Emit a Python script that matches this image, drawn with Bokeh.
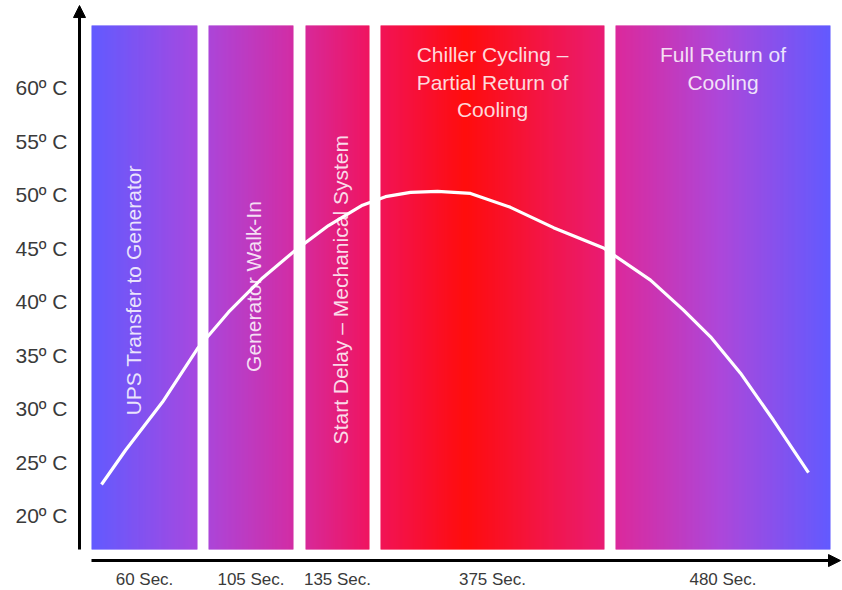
import numpy as np
from bokeh.plotting import figure
from bokeh.models import Range1d, LinearAxis, FixedTicker, Arrow, NormalHead, ColumnDataSource
from bokeh.core.properties import value
from bokeh.embed import file_html
from bokeh.resources import INLINE

# ---------------- data ----------------
phase_names = [
    "UPS Transfer to Generator",
    "Generator Walk-In",
    "Start Delay \u2013 Mechanical System",
    "Chiller Cycling \u2013\nPartial Return of\nCooling",
    "Full Return of\nCooling",
]
phase_seconds = ["60 Sec.", "105 Sec.", "135 Sec.", "375 Sec.", "480 Sec."]
# schematic timeline units (not proportional to seconds)
phase_start = [12, 129, 226, 301, 536]
phase_end = [118, 214, 290, 525, 751]

temp_ticks = [20, 25, 30, 35, 40, 45, 50, 55, 60]
temp_labels = ["20\u00ba C", "25\u00ba C", "30\u00ba C", "35\u00ba C", "40\u00ba C",
               "45\u00ba C", "50\u00ba C", "55\u00ba C", "60\u00ba C"]

curve_x = [22, 46, 83, 118, 149, 183, 216, 249, 283, 306, 331, 358, 391,
           431, 474, 524, 571, 604, 631, 661, 694, 729]
curve_temp = [22.9, 26.1, 30.6, 35.6, 39.0, 42.2, 44.8, 47.1, 49.0, 49.8, 50.2, 50.3, 50.1,
              48.8, 46.9, 45.0, 42.0, 39.2, 36.7, 33.3, 28.9, 24.0]

# ---------------- layout / style ----------------
X_LO, X_HI = -79, 763
Y_LO, Y_HI = 12.991, 68.131
BAND_BOTTOM, BAND_TOP = 16.82, 65.8
XAXIS_AT = 15.79

grad_stops_x = [12, 118, 214, 290, 386, 525, 536, 641, 751]
grad_stops_c = ["#5a52ff", "#a23fde", "#d0229f", "#ef0858", "#ff0000",
                "#e8106c", "#da1e96", "#a83ed8", "#5a52ff"]


def hex2rgb(h):
    return [int(h[i:i + 2], 16) for i in (1, 3, 5)]


stop_rgb = np.array([hex2rgb(c) for c in grad_stops_c], dtype=float)

p = figure(width=842, height=590, x_range=Range1d(X_LO, X_HI), y_range=Range1d(Y_LO, Y_HI),
           output_backend="svg", toolbar_location=None, min_border=0,
           x_axis_type=None, y_axis_type=None)
p.outline_line_color = None
p.background_fill_color = "white"
p.border_fill_color = "white"

# gradient bands built from thin strips
sl, sr, sc = [], [], []
for s, e in zip(phase_start, phase_end):
    xs = np.arange(s, e, 1.0)
    for x0 in xs:
        xm = x0 + 0.5
        rgb = [np.interp(xm, grad_stops_x, stop_rgb[:, k]) for k in range(3)]
        sl.append(x0)
        sr.append(min(x0 + 1.4, e))
        sc.append("#%02x%02x%02x" % tuple(int(round(v)) for v in rgb))
strips = ColumnDataSource(dict(left=sl, right=sr, color=sc))
p.quad(left="left", right="right", bottom=BAND_BOTTOM, top=BAND_TOP, source=strips,
       fill_color="color", line_color=None)

# temperature curve
p.line(curve_x, curve_temp, line_color="white", line_width=3.2, line_join="round")

# band labels
centers = [(s + e) / 2 for s, e in zip(phase_start, phase_end)]
vert_offsets = [-11, 2.5, 3]
vx = [centers[i] + vert_offsets[i] for i in range(3)]
p.text(x=vx, y=[41.05, 41.4, 41.1], text=phase_names[:3], angle=np.pi / 2,
       text_align="center", text_baseline="middle", text_color="white", text_alpha=0.85,
       text_font=value("Liberation Sans"), text_font_size="21px")
p.text(x=centers[3:], y=[64.15, 64.15], text=phase_names[3:],
       text_align="center", text_baseline="top", text_color="white", text_alpha=0.85,
       text_font=value("Liberation Sans"), text_font_size="21px", text_line_height=1.2)

# axes (labels only), fixed at the arrows
yaxis = LinearAxis(fixed_location=0, ticker=FixedTicker(ticks=temp_ticks),
                   major_label_overrides={t: l for t, l in zip(temp_ticks, temp_labels)},
                   axis_line_color=None, major_tick_line_color=None, minor_tick_line_color=None,
                   major_tick_out=0, major_tick_in=0, major_label_standoff=12,
                   major_label_text_font="Liberation Sans", major_label_text_font_size="21px",
                   major_label_text_color="#3a3a3a")
p.add_layout(yaxis, "left")

xaxis = LinearAxis(fixed_location=XAXIS_AT, ticker=FixedTicker(ticks=centers),
                   major_label_overrides={c: l for c, l in zip(centers, phase_seconds)},
                   axis_line_color=None, major_tick_line_color=None, minor_tick_line_color=None,
                   major_tick_out=0, major_tick_in=0, major_label_standoff=9,
                   major_label_text_font="Liberation Sans",
                   major_label_text_font_size="17px",
                   major_label_text_color="#3a3a3a")
p.add_layout(xaxis, "below")

# axis arrows
p.add_layout(Arrow(end=NormalHead(size=12, fill_color="black", line_color="black"),
                   x_start=0, y_start=BAND_BOTTOM, x_end=0, y_end=67.66,
                   line_color="black", line_width=3))
p.add_layout(Arrow(end=NormalHead(size=12, fill_color="black", line_color="black"),
                   x_start=phase_start[0], y_start=XAXIS_AT, x_end=761, y_end=XAXIS_AT,
                   line_color="black", line_width=3))

open("out.html", "w").write(file_html(p, INLINE))
